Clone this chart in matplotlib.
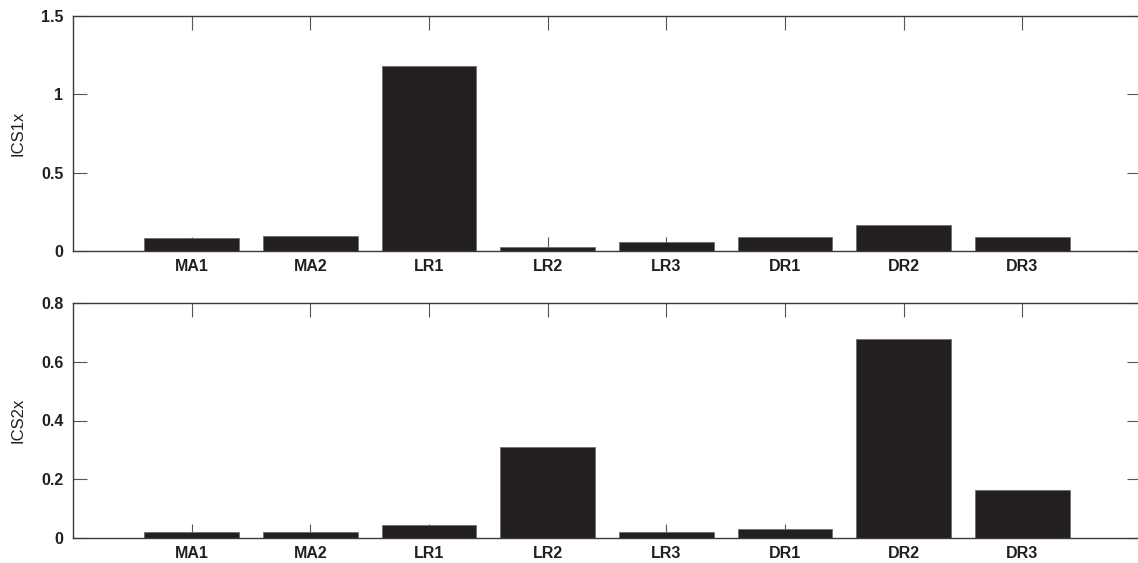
import matplotlib
matplotlib.use("Agg")
import matplotlib.pyplot as plt
import numpy as np

categories = ["MA1", "MA2", "LR1", "LR2", "LR3", "DR1", "DR2", "DR3"]
ics1x = [0.081, 0.096, 1.178, 0.027, 0.055, 0.087, 0.168, 0.087]
ics2x = [0.020, 0.019, 0.044, 0.310, 0.019, 0.030, 0.677, 0.163]

plt.rcParams["font.family"] = ["Liberation Sans", "DejaVu Sans"]

fig = plt.figure(figsize=(11.38, 5.63), dpi=100)
W, H = 1138, 563
left, right = 73 / W, 1141 / W

panels = [
    (ics1x, "ICS1x", (0, 1.5), [0, 0.5, 1, 1.5], ["0", "0.5", "1", "1.5"], 16, 251),
    (ics2x, "ICS2x", (0, 0.8), [0, 0.2, 0.4, 0.6, 0.8], ["0", "0.2", "0.4", "0.6", "0.8"], 303, 538),
]

x = np.arange(1, len(categories) + 1)
for vals, ylab, ylim, yt, ytl, top, bot in panels:
    ax = fig.add_axes([left, 1 - bot / H, right - left, (bot - top) / H])
    ax.bar(x, vals, width=0.8, color="#231f20", edgecolor="#6e6e6e", linewidth=0.6, zorder=2)
    ax.set_xlim(0, 9)
    ax.set_ylim(*ylim)
    ax.set_xticks(x)
    ax.set_xticklabels(categories, fontsize=11.5, fontweight="bold", color="#231f20")
    ax.set_yticks(yt)
    ax.set_yticklabels(ytl, fontsize=11.5, fontweight="bold", color="#231f20")
    ax.set_ylabel(ylab, fontsize=12, color="#231f20", labelpad=11)
    ax.tick_params(direction="in", length=10, width=0.8, color="#555555",
                   top=True, right=True)
    ax.tick_params(axis="x", pad=6)
    ax.tick_params(axis="y", pad=7)
    for s in ax.spines.values():
        s.set_color("#3a3a3a")
        s.set_linewidth(1.0)
        s.set_zorder(3)

fig.savefig("out.png", dpi=100)
